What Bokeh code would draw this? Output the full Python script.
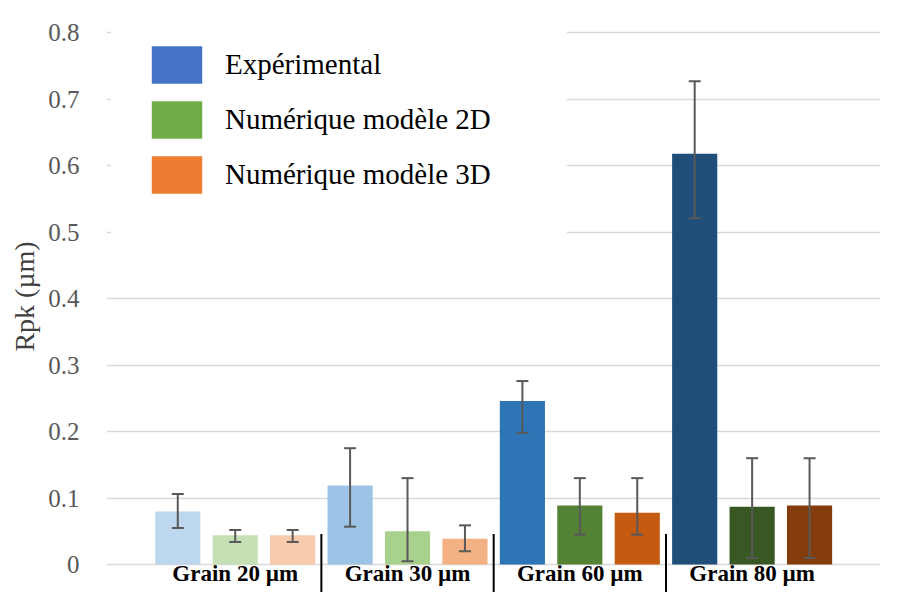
from bokeh.plotting import figure
from bokeh.models import (ColumnDataSource, Range1d, FixedTicker, Whisker, TeeHead,
                          Legend, LegendItem)
from bokeh.core.properties import value
from bokeh.embed import file_html
from bokeh.resources import INLINE

# ---------------- data ----------------
groups = ["Grain 20 µm", "Grain 30 µm", "Grain 60 µm", "Grain 80 µm"]
series = ["Expérimental", "Numérique modèle 2D", "Numérique modèle 3D"]

exp_val = [0.080, 0.119, 0.246, 0.618]
exp_low = [0.055, 0.057, 0.198, 0.521]
exp_high = [0.106, 0.175, 0.276, 0.727]

num2d_val = [0.044, 0.050, 0.089, 0.087]
num2d_low = [0.034, 0.005, 0.045, 0.010]
num2d_high = [0.052, 0.130, 0.130, 0.160]

num3d_val = [0.044, 0.039, 0.078, 0.089]
num3d_low = [0.034, 0.020, 0.045, 0.010]
num3d_high = [0.052, 0.059, 0.130, 0.160]

y_ticks = [0, 0.1, 0.2, 0.3, 0.4, 0.5, 0.6, 0.7, 0.8]
y_tick_labels = ["0", "0.1", "0.2", "0.3", "0.4", "0.5", "0.6", "0.7", "0.8"]
y_label = "Rpk (µm)"

# ---------------- styles ----------------
exp_colors = ["#BDD7EE", "#9DC3E6", "#2E75B6", "#1F4E79"]
num2d_colors = ["#C5E0B4", "#A9D18E", "#548235", "#385723"]
num3d_colors = ["#F8CBAD", "#F4B183", "#C55A11", "#843C0C"]
legend_colors = ["#4472C4", "#70AD47", "#ED7D31"]

FONT = "Liberation Serif"
ERR_COLOR = "#595959"

Y0, Y1 = -0.042, 0.8483

p = figure(width=892, height=592, output_backend="svg", toolbar_location=None,
           x_axis_type=None,
           x_range=Range1d(-0.747, 3.745), y_range=Range1d(Y0, Y1),
           min_border_left=106, min_border_right=12, min_border_top=0,
           min_border_bottom=0)
p.outline_line_color = None
p.background_fill_color = "white"
p.border_fill_color = "white"

# y axis
p.yaxis.ticker = FixedTicker(ticks=y_ticks)
p.yaxis.major_label_overrides = {(0 if t == 0 else t): lab for t, lab in zip(y_ticks, y_tick_labels)}
p.yaxis.axis_line_color = None
p.yaxis.major_tick_line_color = None
p.yaxis.minor_tick_line_color = None
p.yaxis.major_tick_out = 0
p.yaxis.major_tick_in = 0
p.yaxis.major_label_standoff = 27
p.yaxis.major_label_text_font = FONT
p.yaxis.major_label_text_font_size = "25px"
p.yaxis.major_label_text_color = "#595959"
p.yaxis.axis_label = y_label
p.yaxis.axis_label_text_font = FONT
p.yaxis.axis_label_text_font_size = "28px"
p.yaxis.axis_label_text_font_style = "normal"
p.yaxis.axis_label_text_color = "#404040"
p.yaxis.axis_label_standoff = 5

p.ygrid.ticker = FixedTicker(ticks=y_ticks)
p.ygrid.grid_line_color = "#D9D9D9"
p.ygrid.grid_line_width = 1.5
p.xgrid.visible = False

n = len(groups)
gx = list(range(n))
offsets = [-1/3, 0.0, 1/3]
bar_w = 0.262

all_vals = [exp_val, num2d_val, num3d_val]
all_low = [exp_low, num2d_low, num3d_low]
all_high = [exp_high, num2d_high, num3d_high]
all_cols = [exp_colors, num2d_colors, num3d_colors]

for k in range(3):
    src = ColumnDataSource(dict(
        x=[g + offsets[k] for g in gx],
        top=all_vals[k],
        lower=all_low[k],
        upper=all_high[k],
        color=all_cols[k],
    ))
    p.vbar(x="x", top="top", width=bar_w, bottom=0, source=src,
           fill_color="color", line_color=None)
    w = Whisker(source=src, base="x", lower="lower", upper="upper",
                line_color=ERR_COLOR, line_width=2, level="glyph",
                upper_head=TeeHead(size=12, line_color=ERR_COLOR, line_width=2),
                lower_head=TeeHead(size=12, line_color=ERR_COLOR, line_width=2))
    p.add_layout(w)

# group labels under the bars
lab_src = ColumnDataSource(dict(x=gx, y=[-0.013] * n, text=groups))
p.text(x="x", y="y", text="text", source=lab_src, text_align="center",
       text_baseline="alphabetic", text_font=value(FONT), text_font_size="23px",
       text_font_style="bold", text_color="black")

# separators between groups
sep_x = [g + 0.5 for g in gx[:-1]]
p.segment(x0=sep_x, x1=sep_x, y0=[0.046] * len(sep_x), y1=[Y0] * len(sep_x),
          line_color="black", line_width=2)

# legend (swatch renderers have zero height so they draw nothing in the plot)
items = []
for name, col in zip(series, legend_colors):
    r = p.vbar(x=[0], top=[0], bottom=[0], width=0.1, fill_color=col, line_color=None)
    items.append(LegendItem(label=name, renderers=[r]))

legend = Legend(items=items, location=(5, 356), orientation="vertical",
                glyph_width=63, glyph_height=47, label_height=55, spacing=0,
                label_standoff=17, label_width=308, padding=33, margin=0,
                border_line_color="white", border_line_width=1,
                background_fill_color="white", background_fill_alpha=1.0,
                label_text_font=FONT, label_text_font_size="29px",
                label_text_color="black")
p.add_layout(legend, "center")

open("out.html", "w").write(file_html(p, INLINE))
